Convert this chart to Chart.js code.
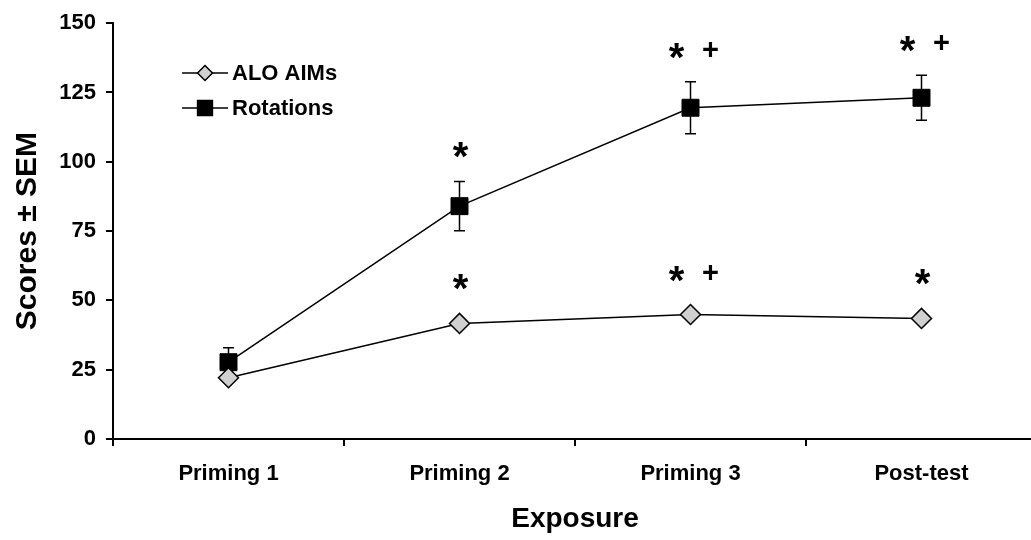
<!DOCTYPE html>
<html>
<head>
<meta charset="utf-8">
<script src="https://cdn.jsdelivr.net/npm/chart.js@4.4.1/dist/chart.umd.min.js"></script>
<style>
  html, body { margin: 0; padding: 0; background: #fff; overflow: hidden; }
  #wrap { position: absolute; left: 0; top: 0; width: 1050px; height: 540px; }
</style>
</head>
<body>
<div id="wrap"><canvas id="chart"></canvas></div>
<script>
// data
const exposures = ["Priming 1", "Priming 2", "Priming 3", "Post-test"];
const aimsScores = [22.1, 41.7, 44.9, 43.5];
const aimsSem = [1.2, 1.5, 1.6, 1.4];
const rotationScores = [27.7, 84.0, 119.5, 123.1];
const rotationSem = [5.2, 8.9, 9.4, 8.1];
// significance marks above each point
const aimsMarks = ["", "*", "*+", "*"];
const rotationMarks = ["", "*", "*+", "*+"];
const yMin = 0, yMax = 150, yStep = 25;

const FONT = "'Liberation Sans', Arial, sans-serif";

// error bars drawn under the markers
const errorBars = {
  id: "errorBars",
  beforeDatasetsDraw(chart) {
    const ctx = chart.ctx;
    const y = chart.scales.y;
    ctx.save();
    ctx.strokeStyle = "#000";
    ctx.lineWidth = 1.5;
    chart.data.datasets.forEach((ds, di) => {
      const meta = chart.getDatasetMeta(di);
      meta.data.forEach((pt, i) => {
        const v = ds.data[i], s = ds.sem[i];
        const top = y.getPixelForValue(v + s);
        const bot = y.getPixelForValue(v - s);
        ctx.beginPath();
        ctx.moveTo(pt.x, top); ctx.lineTo(pt.x, bot);
        ctx.moveTo(pt.x - 5.5, top); ctx.lineTo(pt.x + 5.5, top);
        ctx.moveTo(pt.x - 5.5, bot); ctx.lineTo(pt.x + 5.5, bot);
        ctx.stroke();
      });
    });
    ctx.restore();
  }
};

function drawGlyph(ctx, ch, x, cy) {
  ctx.font = ch === "*" ? "bold 40px " + FONT : "bold 29px " + FONT;
  const m = ctx.measureText(ch);
  ctx.fillText(ch, x, cy + (m.actualBoundingBoxAscent - m.actualBoundingBoxDescent) / 2);
}

const sigMarks = {
  id: "sigMarks",
  afterDatasetsDraw(chart) {
    const ctx = chart.ctx;
    const y = chart.scales.y;
    ctx.save();
    ctx.fillStyle = "#000";
    ctx.textAlign = "center";
    ctx.textBaseline = "alphabetic";
    chart.data.datasets.forEach((ds, di) => {
      const meta = chart.getDatasetMeta(di);
      meta.data.forEach((pt, i) => {
        const mark = ds.marks[i];
        if (!mark) return;
        const top = Math.min(pt.y - ds.pointRadius, y.getPixelForValue(ds.data[i] + ds.sem[i]));
        const cy = top - 31;
        if (mark.length === 1) {
          drawGlyph(ctx, "*", pt.x + 1, cy);
        } else {
          drawGlyph(ctx, "*", pt.x - 14, cy);
          drawGlyph(ctx, "+", pt.x + 20, cy - 2);
        }
      });
    });
    ctx.restore();
  }
};

// legend inside the plot, top left
const innerLegend = {
  id: "innerLegend",
  afterDraw(chart) {
    const ctx = chart.ctx;
    ctx.save();
    chart.data.datasets.forEach((ds, i) => {
      const ly = 73 + i * 35;
      ctx.strokeStyle = "#000";
      ctx.lineWidth = 1.5;
      ctx.beginPath();
      ctx.moveTo(182, ly); ctx.lineTo(228, ly);
      ctx.stroke();
      ctx.fillStyle = ds.pointBackgroundColor;
      Chart.helpers.drawPoint(ctx, {
        pointStyle: ds.pointStyle, radius: ds.legendRadius, rotation: 0, borderWidth: 1.5
      }, 205, ly);
      ctx.fillStyle = "#000";
      ctx.font = "bold 22px " + FONT;
      ctx.textAlign = "left";
      ctx.textBaseline = "middle";
      ctx.fillText(ds.label, 232, ly + 1);
    });
    ctx.restore();
  }
};

new Chart(document.getElementById("chart"), {
  type: "line",
  data: {
    labels: exposures,
    datasets: [
      {
        label: "ALO AIMs",
        data: aimsScores,
        sem: aimsSem,
        marks: aimsMarks,
        borderColor: "#000",
        borderWidth: 1.5,
        pointStyle: "rectRot",
        pointRadius: 10,
        legendRadius: 7.5,
        pointBackgroundColor: "#d0d0d0",
        pointBorderColor: "#000",
        pointBorderWidth: 1.5
      },
      {
        label: "Rotations",
        data: rotationScores,
        sem: rotationSem,
        marks: rotationMarks,
        borderColor: "#000",
        borderWidth: 1.5,
        pointStyle: "rect",
        pointRadius: 12,
        legendRadius: 10.5,
        pointBackgroundColor: "#000",
        pointBorderColor: "#000",
        pointBorderWidth: 1
      }
    ]
  },
  options: {
    responsive: true,
    maintainAspectRatio: false,
    animation: false,
    layout: { padding: { top: 21, right: 0, bottom: 0, left: 0 } },
    plugins: { legend: { display: false }, tooltip: { enabled: false } },
    scales: {
      x: {
        offset: true,
        grid: { offset: true, drawOnChartArea: false, color: "#000", tickLength: 7, lineWidth: 2 },
        border: { color: "#000", width: 2 },
        ticks: { color: "#000", font: { family: FONT, size: 22, weight: "bold" }, padding: 15 },
        title: { display: true, text: "Exposure", color: "#000", font: { family: FONT, size: 28, weight: "bold" }, padding: { top: 4, bottom: 4 } },
        afterFit(scale) { scale.height = 101; }
      },
      y: {
        min: yMin, max: yMax,
        grid: { drawOnChartArea: false, color: "#000", tickLength: 7, lineWidth: 2 },
        border: { color: "#000", width: 2 },
        ticks: { stepSize: yStep, color: "#000", font: { family: FONT, size: 22, weight: "bold" }, padding: 10 },
        title: { display: true, text: "Scores ± SEM", color: "#000", font: { family: FONT, size: 30, weight: "bold" }, padding: { top: 10, bottom: 0 } },
        afterFit(scale) { scale.width = 113; }
      }
    }
  },
  plugins: [errorBars, sigMarks, innerLegend]
});
</script>
</body>
</html>
